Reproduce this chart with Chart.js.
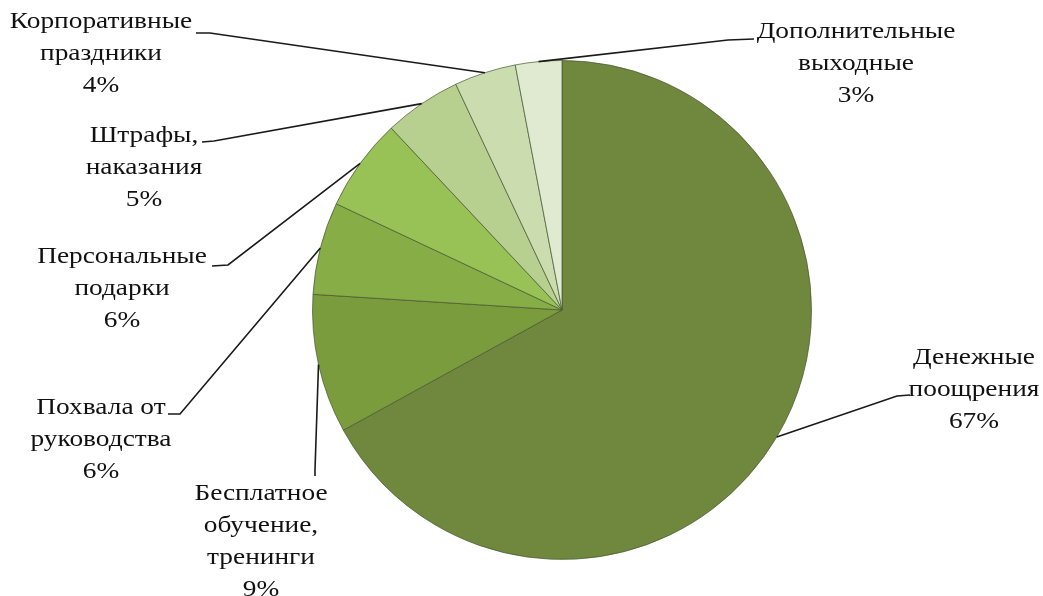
<!DOCTYPE html>
<html>
<head>
<meta charset="utf-8">
<script src="https://cdn.jsdelivr.net/npm/chart.js@4.4.1/dist/chart.umd.min.js"></script>
<style>
    html, body { margin: 0; padding: 0; background: #fff; }
    #wrap { width: 1043px; height: 596px; position: relative; }
</style>
</head>
<body>
<div id="wrap"><canvas id="pie"></canvas></div>
<script>
    // Data (clockwise from 12 o'clock)
    const categories = [
        ['Денежные', 'поощрения'],
        ['Бесплатное', 'обучение,', 'тренинги'],
        ['Похвала от', 'руководства'],
        ['Персональные', 'подарки'],
        ['Штрафы,', 'наказания'],
        ['Корпоративные', 'праздники'],
        ['Дополнительные', 'выходные']
    ];
    const shares = [67, 9, 6, 6, 5, 4, 3];

    const sliceColors = ['#6f883d', '#7b9c3d', '#87ad46', '#98c255', '#b7d08f', '#cbdcae', '#e0ead0'];

    // label layout: text centre x, first line centre y, leader start + knee
    const labelLayout = [
        { x: 974, y: 358, from: [910, 395], knee: [897, 396] },
        { x: 261, y: 494, from: [315, 476], knee: [315, 470] },
        { x: 101, y: 408, from: [168, 414], knee: [180, 414] },
        { x: 122, y: 257, from: [212, 266], knee: [228, 265] },
        { x: 144, y: 136, from: [202, 142], knee: [214, 141] },
        { x: 101, y: 22,  from: [196, 33],  knee: [210, 33] },
        { x: 856, y: 32,  from: [754, 39],  knee: [728, 40] }
    ];

    const calloutPlugin = {
        id: 'callouts',
        afterDatasetsDraw(chart) {
            const ctx = chart.ctx;
            const meta = chart.getDatasetMeta(0);
            const lineH = 32;
            const stretch = 1.14; // source text is set wide
            ctx.save();
            meta.data.forEach((arc, i) => {
                const p = arc.getProps(['x', 'y', 'startAngle', 'endAngle', 'outerRadius'], true);
                const mid = (p.startAngle + p.endAngle) / 2;
                const ax = p.x + Math.cos(mid) * p.outerRadius;
                const ay = p.y + Math.sin(mid) * p.outerRadius;
                const L = labelLayout[i];

                // leader line
                ctx.strokeStyle = '#1a1a1a';
                ctx.lineWidth = 1.6;
                ctx.beginPath();
                ctx.moveTo(L.from[0], L.from[1]);
                ctx.lineTo(L.knee[0], L.knee[1]);
                ctx.lineTo(ax, ay);
                ctx.stroke();

                // text
                const lines = categories[i].concat([shares[i] + '%']);
                ctx.save();
                ctx.translate(L.x, 0);
                ctx.scale(stretch, 1);
                ctx.fillStyle = '#111';
                ctx.font = '24px "Liberation Serif", "Times New Roman", serif';
                ctx.textAlign = 'center';
                ctx.textBaseline = 'middle';
                lines.forEach((t, k) => ctx.fillText(t, 0, L.y + k * lineH));
                ctx.restore();
            });
            ctx.restore();
        }
    };

    new Chart(document.getElementById('pie'), {
        type: 'pie',
        data: {
            labels: categories.map(c => c.join(' ')),
            datasets: [{
                data: shares,
                backgroundColor: sliceColors,
                borderColor: 'rgba(70, 85, 50, 0.7)',
                borderWidth: 1
            }]
        },
        options: {
            responsive: true,
            maintainAspectRatio: false,
            animation: false,
            layout: { padding: { top: 60, bottom: 36, left: 81, right: 0 } },
            plugins: {
                legend: { display: false },
                tooltip: { enabled: false }
            }
        },
        plugins: [calloutPlugin]
    });
</script>
</body>
</html>
